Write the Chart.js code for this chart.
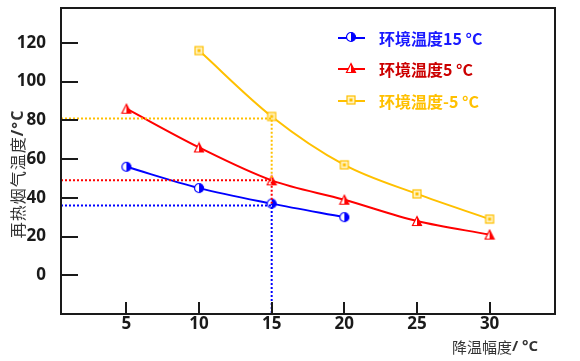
<!DOCTYPE html>
<html>
<head>
<meta charset="utf-8">
<script src="https://cdn.jsdelivr.net/npm/chart.js@4.4.1/dist/chart.umd.min.js"></script>
<style>
  body { margin: 0; background: #fff; }
  #wrap { width: 580px; height: 361px; }
</style>
</head>
<body>
<div id="wrap"><canvas id="grafico" width="580" height="361"></canvas></div>
<script>
// dados
var xTicks = [5, 10, 15, 20, 25, 30];
var yTicks = [0, 20, 40, 60, 80, 100, 120];
var nomes = ["环境温度15 °C", "环境温度5 °C", "环境温度-5 °C"];
var xAzul = [5, 10, 15, 20];
var yAzul = [56, 45, 37, 30];
var xVermelho = [5, 10, 15, 20, 25, 30];
var yVermelho = [86, 66, 49, 39, 28, 21];
var xAmarelo = [10, 15, 20, 25, 30];
var yAmarelo = [116, 82, 57, 42, 29];
// linhas pontilhadas de referência em x = 15
var xRef = 15;
var refAmarelo = 81;
var refVermelho = 49;
var refAzul = 36;

var AZUL = "#0000ff", VERMELHO = "#ff0000", AMARELO = "#ffc000";

function pares(xs, ys) {
  return xs.map(function (x, i) { return { x: x, y: ys[i] }; });
}

// marcadores desenhados em canvas
function marcador(tipo, cor) {
  var c = document.createElement("canvas");
  c.width = 12; c.height = 12;
  var g = c.getContext("2d");
  g.strokeStyle = cor; g.fillStyle = cor; g.lineWidth = 1.2;
  if (tipo === "circulo") {
    g.fillStyle = "#fff";
    g.beginPath(); g.arc(6, 6, 4.5, 0, Math.PI * 2); g.fill();
    g.fillStyle = cor;
    g.beginPath(); g.arc(6, 6, 4.5, -Math.PI / 2, Math.PI / 2); g.fill();
    g.beginPath(); g.arc(6, 6, 4.5, 0, Math.PI * 2); g.stroke();
  } else if (tipo === "triangulo") {
    g.fillStyle = "#fff";
    g.beginPath(); g.moveTo(6, 1.5); g.lineTo(10.5, 10.5); g.lineTo(1.5, 10.5); g.closePath(); g.fill();
    g.fillStyle = cor;
    g.beginPath(); g.moveTo(6, 1.5); g.lineTo(10.5, 10.5); g.lineTo(6, 10.5); g.closePath(); g.fill();
    g.beginPath(); g.moveTo(6, 1.5); g.lineTo(10.5, 10.5); g.lineTo(1.5, 10.5); g.closePath(); g.stroke();
  } else {
    g.fillStyle = "#fff2c0";
    g.fillRect(2, 2, 8, 8);
    g.strokeRect(2, 2, 8, 8);
    g.fillStyle = cor;
    g.fillRect(4.5, 4.5, 3, 3);
  }
  return c;
}

var mAzul = marcador("circulo", AZUL);
var mVermelho = marcador("triangulo", VERMELHO);
var mAmarelo = marcador("quadrado", AMARELO);

function serie(xs, ys, cor, img) {
  return {
    data: pares(xs, ys),
    borderColor: cor,
    borderWidth: 2,
    pointStyle: img,
    pointRadius: 6,
    tension: 0.4,
    cubicInterpolationMode: "monotone",
    fill: false,
  };
}

function pontilhado(pts, cor) {
  return {
    data: pts,
    borderColor: cor,
    borderWidth: 2,
    borderDash: [2, 2],
    pointRadius: 0,
    tension: 0,
    fill: false,
  };
}

var datasets = [
  pontilhado([{ x: 0.5, y: refAmarelo }, { x: xRef, y: refAmarelo }, { x: xRef, y: refVermelho }], AMARELO),
  pontilhado([{ x: 0.5, y: refVermelho }, { x: xRef, y: refVermelho }, { x: xRef, y: 37 }], VERMELHO),
  pontilhado([{ x: 0.5, y: refAzul }, { x: xRef, y: refAzul }, { x: xRef, y: 37 }, { x: xRef, y: -20 }], AZUL),
  serie(xAzul, yAzul, AZUL, mAzul),
  serie(xVermelho, yVermelho, VERMELHO, mVermelho),
  serie(xAmarelo, yAmarelo, AMARELO, mAmarelo),
];

// título em duas partes: chinês normal + unidade em negrito, centrado em (0,0)
function tituloMisto(ctx, cjk, unidade, tam, espaco) {
  var f1 = tam + "px 'Noto Sans CJK SC'";
  var f2 = "bold " + tam + "px 'Open Sans'";
  ctx.letterSpacing = espaco + "px";
  ctx.font = f1;
  var w1 = ctx.measureText(cjk).width;
  ctx.font = f2;
  var w2 = ctx.measureText(unidade).width;
  var x0 = -(w1 + w2) / 2;
  ctx.textAlign = "left";
  ctx.textBaseline = "middle";
  ctx.font = f1;
  ctx.fillText(cjk, x0, 0);
  ctx.font = f2;
  ctx.fillText(unidade, x0 + w1, 0);
  ctx.letterSpacing = "0px";
}

// plugin: moldura, marcas internas, títulos e legenda
var extras = {
  id: "extras",
  afterDraw: function (chart) {
    var ctx = chart.ctx, a = chart.chartArea;
    var sx = chart.scales.x, sy = chart.scales.y;
    ctx.save();
    ctx.strokeStyle = "#1a1a1a";
    ctx.lineWidth = 2;
    ctx.strokeRect(a.left, a.top, a.right - a.left, a.bottom - a.top);
    ctx.beginPath();
    yTicks.forEach(function (v) {
      var py = Math.round(sy.getPixelForValue(v));
      ctx.moveTo(a.left, py); ctx.lineTo(a.left + 17, py);
    });
    xTicks.forEach(function (v) {
      var px = Math.round(sx.getPixelForValue(v));
      ctx.moveTo(px, a.bottom); ctx.lineTo(px, a.bottom - 12);
    });
    ctx.stroke();
    ctx.restore();

    // títulos dos eixos
    ctx.save();
    ctx.fillStyle = "#333";
    ctx.translate(495, 347);
    tituloMisto(ctx, "降温幅度", "/ °C", 15, 0);
    ctx.restore();
    ctx.save();
    ctx.fillStyle = "#333";
    ctx.translate(18, 174);
    ctx.rotate(-Math.PI / 2);
    tituloMisto(ctx, "再热烟气温度", "/°C", 16, 1);
    ctx.restore();

    // legenda
    ctx.save();
    var itens = [
      { nome: nomes[0], cor: AZUL, texto: "#1a1aff", img: mAzul, y: 38 },
      { nome: nomes[1], cor: VERMELHO, texto: "#cc0000", img: mVermelho, y: 69 },
      { nome: nomes[2], cor: AMARELO, texto: "#ffc000", img: mAmarelo, y: 101 },
    ];
    itens.forEach(function (it) {
      ctx.strokeStyle = it.cor;
      ctx.lineWidth = 2;
      ctx.beginPath(); ctx.moveTo(338, it.y); ctx.lineTo(365, it.y); ctx.stroke();
      ctx.drawImage(it.img, 345, it.y - 7);
      ctx.fillStyle = it.texto;
      ctx.font = "bold 16px 'Noto Sans CJK SC'";
      ctx.textAlign = "left";
      ctx.textBaseline = "middle";
      ctx.fillText(it.nome, 379, it.y + 1);
    });
    ctx.restore();
  },
};

function semPadding(s) {
  s.paddingTop = 0; s.paddingBottom = 0; s.paddingLeft = 0; s.paddingRight = 0;
}

var ctx = document.getElementById("grafico").getContext("2d");
var grafico = new Chart(ctx, {
  type: "line",
  data: { datasets: datasets },
  plugins: [extras],
  options: {
    responsive: false,
    animation: false,
    layout: { padding: { top: 7, right: 25, left: 0, bottom: 0 } },
    plugins: { legend: { display: false }, tooltip: { enabled: false } },
    scales: {
      x: {
        type: "linear",
        min: 0.5,
        max: 34.5,
        afterBuildTicks: function (s) { s.ticks = xTicks.map(function (v) { return { value: v }; }); },
        afterFit: function (s) { s.height = 47; semPadding(s); },
        grid: { display: false },
        border: { display: false },
        ticks: { padding: -8, color: "#1a1a1a", font: { family: "'Open Sans'", size: 17, weight: "bold" }, maxRotation: 0 },
      },
      y: {
        type: "linear",
        min: -20,
        max: 138,
        afterBuildTicks: function (s) { s.ticks = yTicks.map(function (v) { return { value: v }; }); },
        afterFit: function (s) { s.width = 61; semPadding(s); },
        grid: { display: false },
        border: { display: false },
        ticks: { padding: 7, color: "#1a1a1a", font: { family: "'Open Sans'", size: 17, weight: "bold" } },
      },
    },
  },
});
</script>
</body>
</html>
